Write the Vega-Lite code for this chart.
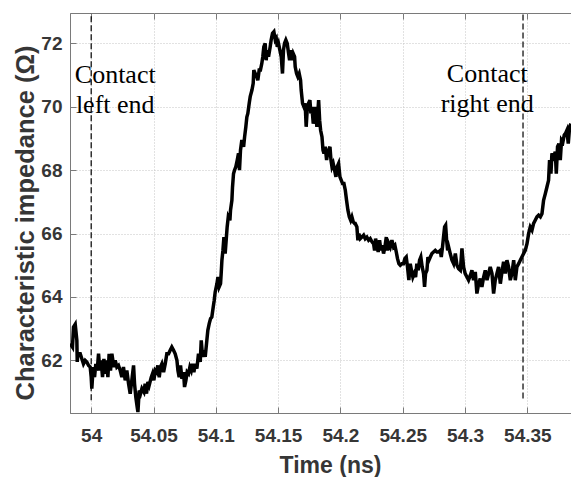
{
  "$schema": "https://vega.github.io/schema/vega-lite/v6.json",
  "width": 501,
  "height": 400,
  "autosize": {"type": "none"},
  "padding": {"left": 70, "top": 13, "right": 0, "bottom": 64},
  "background": "white",
  "config": {
    "view": {"stroke": "#7a7a7a", "strokeWidth": 1},
    "axis": {
      "labelFont": "Liberation Sans",
      "labelFontWeight": "bold",
      "labelFontSize": 19,
      "labelColor": "#363636",
      "titleFont": "Liberation Sans",
      "titleFontWeight": "bold",
      "titleFontSize": 23,
      "titleColor": "#363636",
      "domainColor": "#7a7a7a",
      "tickColor": "#7a7a7a",
      "tickSize": -6,
      "gridColor": "#c4c4c4",
      "gridDash": [1, 2],
      "gridWidth": 1
    }
  },
  "datasets": {
    "trace": [
      {"t": 53.9831, "z": 62.53}, {"t": 53.9850, "z": 62.42}, {"t": 53.9858, "z": 63.05}, {"t": 53.9872, "z": 63.14},
      {"t": 53.9885, "z": 62.63}, {"t": 53.9888, "z": 61.95}, {"t": 53.9893, "z": 62.21}, {"t": 53.9912, "z": 62.21},
      {"t": 53.9925, "z": 62.05}, {"t": 53.9938, "z": 61.89}, {"t": 53.9952, "z": 62.00}, {"t": 53.9965, "z": 61.95},
      {"t": 53.9979, "z": 61.84}, {"t": 53.9992, "z": 61.79}, {"t": 54.0000, "z": 61.47}, {"t": 54.0005, "z": 61.11},
      {"t": 54.0016, "z": 61.79}, {"t": 54.0027, "z": 61.47}, {"t": 54.0037, "z": 61.89}, {"t": 54.0048, "z": 61.68},
      {"t": 54.0059, "z": 62.21}, {"t": 54.0070, "z": 61.68}, {"t": 54.0080, "z": 62.00}, {"t": 54.0091, "z": 61.47},
      {"t": 54.0102, "z": 62.05}, {"t": 54.0112, "z": 61.58}, {"t": 54.0123, "z": 62.00}, {"t": 54.0134, "z": 61.47},
      {"t": 54.0144, "z": 62.21}, {"t": 54.0155, "z": 61.68}, {"t": 54.0166, "z": 62.21}, {"t": 54.0182, "z": 61.79},
      {"t": 54.0193, "z": 62.00}, {"t": 54.0206, "z": 61.79}, {"t": 54.0219, "z": 61.84}, {"t": 54.0233, "z": 61.68},
      {"t": 54.0246, "z": 61.47}, {"t": 54.0259, "z": 61.79}, {"t": 54.0273, "z": 61.37}, {"t": 54.0286, "z": 61.68},
      {"t": 54.0300, "z": 61.26}, {"t": 54.0313, "z": 60.95}, {"t": 54.0326, "z": 61.37}, {"t": 54.0340, "z": 61.84},
      {"t": 54.0348, "z": 61.26}, {"t": 54.0358, "z": 60.84}, {"t": 54.0369, "z": 60.53}, {"t": 54.0375, "z": 60.37},
      {"t": 54.0385, "z": 61.05}, {"t": 54.0396, "z": 60.95}, {"t": 54.0407, "z": 61.11}, {"t": 54.0423, "z": 61.00},
      {"t": 54.0433, "z": 61.26}, {"t": 54.0444, "z": 60.95}, {"t": 54.0455, "z": 61.32}, {"t": 54.0465, "z": 61.21},
      {"t": 54.0482, "z": 61.47}, {"t": 54.0492, "z": 61.58}, {"t": 54.0503, "z": 61.37}, {"t": 54.0514, "z": 61.68},
      {"t": 54.0524, "z": 61.63}, {"t": 54.0535, "z": 61.84}, {"t": 54.0546, "z": 61.47}, {"t": 54.0556, "z": 61.79},
      {"t": 54.0567, "z": 61.89}, {"t": 54.0581, "z": 61.63}, {"t": 54.0594, "z": 61.89}, {"t": 54.0607, "z": 62.21},
      {"t": 54.0621, "z": 62.21}, {"t": 54.0634, "z": 62.32}, {"t": 54.0647, "z": 62.42}, {"t": 54.0661, "z": 62.32},
      {"t": 54.0674, "z": 62.21}, {"t": 54.0688, "z": 62.00}, {"t": 54.0696, "z": 61.68}, {"t": 54.0706, "z": 61.47},
      {"t": 54.0717, "z": 61.84}, {"t": 54.0728, "z": 61.42}, {"t": 54.0741, "z": 61.63}, {"t": 54.0749, "z": 61.16},
      {"t": 54.0760, "z": 61.37}, {"t": 54.0770, "z": 61.63}, {"t": 54.0781, "z": 61.58}, {"t": 54.0792, "z": 61.79},
      {"t": 54.0803, "z": 61.68}, {"t": 54.0813, "z": 61.89}, {"t": 54.0824, "z": 61.63}, {"t": 54.0835, "z": 61.89},
      {"t": 54.0848, "z": 61.74}, {"t": 54.0861, "z": 62.21}, {"t": 54.0875, "z": 61.95}, {"t": 54.0883, "z": 62.63},
      {"t": 54.0894, "z": 62.11}, {"t": 54.0904, "z": 62.32}, {"t": 54.0915, "z": 62.11}, {"t": 54.0928, "z": 62.63},
      {"t": 54.0936, "z": 62.95}, {"t": 54.0947, "z": 63.16}, {"t": 54.0958, "z": 63.32}, {"t": 54.0968, "z": 63.37},
      {"t": 54.0979, "z": 63.68}, {"t": 54.0987, "z": 63.89},
      {"t": 54.0995, "z": 64.16}, {"t": 54.1009, "z": 64.42}, {"t": 54.1017, "z": 64.63}, {"t": 54.1027, "z": 64.32},
      {"t": 54.1038, "z": 64.42}, {"t": 54.1043, "z": 64.74}, {"t": 54.1049, "z": 65.16}, {"t": 54.1057, "z": 65.47},
      {"t": 54.1065, "z": 65.89}, {"t": 54.1075, "z": 65.37}, {"t": 54.1083, "z": 65.79}, {"t": 54.1091, "z": 66.21},
      {"t": 54.1100, "z": 66.53}, {"t": 54.1113, "z": 66.42}, {"t": 54.1118, "z": 66.74}, {"t": 54.1129, "z": 67.05},
      {"t": 54.1134, "z": 67.47}, {"t": 54.1142, "z": 67.89}, {"t": 54.1150, "z": 68.00}, {"t": 54.1161, "z": 68.11},
      {"t": 54.1172, "z": 68.32}, {"t": 54.1182, "z": 68.53}, {"t": 54.1190, "z": 68.00}, {"t": 54.1198, "z": 68.63},
      {"t": 54.1209, "z": 68.95}, {"t": 54.1223, "z": 68.74}, {"t": 54.1231, "z": 69.05}, {"t": 54.1241, "z": 69.37},
      {"t": 54.1249, "z": 69.68}, {"t": 54.1257, "z": 69.79}, {"t": 54.1268, "z": 70.11}, {"t": 54.1276, "z": 70.32},
      {"t": 54.1290, "z": 70.53}, {"t": 54.1300, "z": 70.74}, {"t": 54.1305, "z": 71.16}, {"t": 54.1316, "z": 71.05},
      {"t": 54.1329, "z": 70.95}, {"t": 54.1337, "z": 70.84}, {"t": 54.1348, "z": 71.16}, {"t": 54.1358, "z": 71.16},
      {"t": 54.1369, "z": 71.37}, {"t": 54.1377, "z": 71.58}, {"t": 54.1385, "z": 71.89}, {"t": 54.1396, "z": 72.00},
      {"t": 54.1404, "z": 71.47}, {"t": 54.1412, "z": 71.79}, {"t": 54.1423, "z": 71.58}, {"t": 54.1436, "z": 71.89},
      {"t": 54.1444, "z": 72.11}, {"t": 54.1455, "z": 72.32}, {"t": 54.1466, "z": 72.37}, {"t": 54.1477, "z": 72.11},
      {"t": 54.1485, "z": 72.16}, {"t": 54.1493, "z": 71.89}, {"t": 54.1503, "z": 72.00}, {"t": 54.1514, "z": 71.79},
      {"t": 54.1525, "z": 71.58}, {"t": 54.1535, "z": 71.05}, {"t": 54.1543, "z": 71.79}, {"t": 54.1551, "z": 72.00},
      {"t": 54.1562, "z": 72.11}, {"t": 54.1573, "z": 72.00}, {"t": 54.1584, "z": 71.68}, {"t": 54.1592, "z": 71.47},
      {"t": 54.1600, "z": 71.79}, {"t": 54.1610, "z": 71.47}, {"t": 54.1621, "z": 71.68}, {"t": 54.1632, "z": 71.58},
      {"t": 54.1637, "z": 71.26}, {"t": 54.1648, "z": 71.05}, {"t": 54.1658, "z": 70.95}, {"t": 54.1669, "z": 71.05},
      {"t": 54.1680, "z": 70.84}, {"t": 54.1685, "z": 70.53}, {"t": 54.1696, "z": 70.11}, {"t": 54.1707, "z": 70.00},
      {"t": 54.1717, "z": 70.11}, {"t": 54.1725, "z": 69.37}, {"t": 54.1733, "z": 69.89}, {"t": 54.1744, "z": 70.11},
      {"t": 54.1755, "z": 70.21}, {"t": 54.1763, "z": 69.79}, {"t": 54.1771, "z": 70.00}, {"t": 54.1782, "z": 69.47},
      {"t": 54.1790, "z": 69.68}, {"t": 54.1798, "z": 70.00}, {"t": 54.1811, "z": 69.37}, {"t": 54.1825, "z": 70.21},
      {"t": 54.1833, "z": 69.58}, {"t": 54.1841, "z": 69.26}, {"t": 54.1852, "z": 69.05}, {"t": 54.1860, "z": 68.63},
      {"t": 54.1868, "z": 68.53}, {"t": 54.1878, "z": 68.74}, {"t": 54.1889, "z": 68.32}, {"t": 54.1897, "z": 68.53},
      {"t": 54.1905, "z": 68.63}, {"t": 54.1916, "z": 68.74}, {"t": 54.1924, "z": 68.32}, {"t": 54.1932, "z": 68.11},
      {"t": 54.1942, "z": 68.21}, {"t": 54.1953, "z": 68.00}, {"t": 54.1964, "z": 67.79}, {"t": 54.1974, "z": 68.11},
      {"t": 54.1985, "z": 68.21}, {"t": 54.1996, "z": 67.79}, {"t": 54.2007, "z": 67.68}, {"t": 54.2017, "z": 67.58},
      {"t": 54.2028, "z": 67.58}, {"t": 54.2039, "z": 67.37}, {"t": 54.2049, "z": 67.05}, {"t": 54.2060, "z": 66.74},
      {"t": 54.2071, "z": 66.53}, {"t": 54.2082, "z": 66.42}, {"t": 54.2092, "z": 66.53}, {"t": 54.2103, "z": 66.37},
      {"t": 54.2114, "z": 66.32},
      {"t": 54.2119, "z": 66.32}, {"t": 54.2132, "z": 66.21}, {"t": 54.2140, "z": 65.79}, {"t": 54.2148, "z": 66.00},
      {"t": 54.2159, "z": 65.84}, {"t": 54.2172, "z": 65.89}, {"t": 54.2186, "z": 65.95}, {"t": 54.2199, "z": 65.84},
      {"t": 54.2212, "z": 65.89}, {"t": 54.2226, "z": 65.79}, {"t": 54.2239, "z": 65.84}, {"t": 54.2253, "z": 65.74},
      {"t": 54.2266, "z": 65.68}, {"t": 54.2274, "z": 65.47}, {"t": 54.2282, "z": 65.84}, {"t": 54.2293, "z": 65.63},
      {"t": 54.2303, "z": 65.42}, {"t": 54.2314, "z": 65.79}, {"t": 54.2325, "z": 65.47}, {"t": 54.2335, "z": 65.63},
      {"t": 54.2346, "z": 65.37}, {"t": 54.2357, "z": 65.58}, {"t": 54.2368, "z": 65.89}, {"t": 54.2378, "z": 65.47},
      {"t": 54.2389, "z": 65.68}, {"t": 54.2400, "z": 65.58}, {"t": 54.2413, "z": 65.79}, {"t": 54.2426, "z": 65.58},
      {"t": 54.2437, "z": 65.63}, {"t": 54.2448, "z": 65.42}, {"t": 54.2458, "z": 65.21}, {"t": 54.2469, "z": 65.05},
      {"t": 54.2480, "z": 65.00}, {"t": 54.2493, "z": 65.05}, {"t": 54.2506, "z": 65.05}, {"t": 54.2517, "z": 65.21},
      {"t": 54.2528, "z": 65.26}, {"t": 54.2538, "z": 64.95}, {"t": 54.2549, "z": 64.53}, {"t": 54.2560, "z": 65.05},
      {"t": 54.2570, "z": 64.84}, {"t": 54.2581, "z": 64.63}, {"t": 54.2592, "z": 64.74}, {"t": 54.2603, "z": 64.63},
      {"t": 54.2613, "z": 65.05}, {"t": 54.2624, "z": 64.84}, {"t": 54.2635, "z": 65.16}, {"t": 54.2645, "z": 65.26},
      {"t": 54.2656, "z": 64.95}, {"t": 54.2667, "z": 64.74}, {"t": 54.2675, "z": 64.32}, {"t": 54.2683, "z": 64.74},
      {"t": 54.2694, "z": 64.84}, {"t": 54.2702, "z": 65.26}, {"t": 54.2710, "z": 65.16}, {"t": 54.2721, "z": 65.26},
      {"t": 54.2734, "z": 65.37}, {"t": 54.2747, "z": 65.42}, {"t": 54.2761, "z": 65.47}, {"t": 54.2774, "z": 65.42},
      {"t": 54.2787, "z": 65.42}, {"t": 54.2801, "z": 65.47}, {"t": 54.2809, "z": 65.26}, {"t": 54.2819, "z": 65.58},
      {"t": 54.2827, "z": 65.89}, {"t": 54.2836, "z": 66.21}, {"t": 54.2844, "z": 66.26}, {"t": 54.2852, "z": 65.79},
      {"t": 54.2860, "z": 65.47}, {"t": 54.2868, "z": 65.58}, {"t": 54.2881, "z": 65.37}, {"t": 54.2895, "z": 65.16},
      {"t": 54.2908, "z": 65.05}, {"t": 54.2922, "z": 65.37}, {"t": 54.2935, "z": 65.00}, {"t": 54.2948, "z": 64.89},
      {"t": 54.2962, "z": 64.84},
      {"t": 54.2975, "z": 65.53}, {"t": 54.2988, "z": 64.95}, {"t": 54.3001, "z": 64.74}, {"t": 54.3015, "z": 64.63},
      {"t": 54.3028, "z": 64.53}, {"t": 54.3042, "z": 64.68}, {"t": 54.3055, "z": 64.84}, {"t": 54.3068, "z": 64.53},
      {"t": 54.3082, "z": 64.79}, {"t": 54.3095, "z": 64.11}, {"t": 54.3109, "z": 64.42}, {"t": 54.3122, "z": 64.58},
      {"t": 54.3135, "z": 64.32}, {"t": 54.3149, "z": 64.63}, {"t": 54.3162, "z": 64.84}, {"t": 54.3176, "z": 64.53},
      {"t": 54.3189, "z": 64.74}, {"t": 54.3202, "z": 64.95}, {"t": 54.3216, "z": 64.74}, {"t": 54.3229, "z": 64.11},
      {"t": 54.3242, "z": 64.53}, {"t": 54.3256, "z": 64.74}, {"t": 54.3269, "z": 64.95}, {"t": 54.3283, "z": 64.42},
      {"t": 54.3296, "z": 64.79}, {"t": 54.3309, "z": 65.11}, {"t": 54.3323, "z": 64.74}, {"t": 54.3336, "z": 65.16},
      {"t": 54.3349, "z": 64.95}, {"t": 54.3363, "z": 64.53}, {"t": 54.3376, "z": 64.74}, {"t": 54.3390, "z": 65.16},
      {"t": 54.3403, "z": 64.53}, {"t": 54.3416, "z": 64.95}, {"t": 54.3430, "z": 65.05}, {"t": 54.3443, "z": 65.16},
      {"t": 54.3456, "z": 65.26}, {"t": 54.3470, "z": 65.37}, {"t": 54.3483, "z": 65.47}, {"t": 54.3497, "z": 65.68},
      {"t": 54.3510, "z": 66.00}, {"t": 54.3523, "z": 66.21}, {"t": 54.3537, "z": 66.11}, {"t": 54.3550, "z": 66.32},
      {"t": 54.3563, "z": 66.42}, {"t": 54.3577, "z": 66.53}, {"t": 54.3590, "z": 66.58}, {"t": 54.3604, "z": 66.53},
      {"t": 54.3617, "z": 66.63}, {"t": 54.3630, "z": 67.05}, {"t": 54.3644, "z": 67.26}, {"t": 54.3657, "z": 67.47},
      {"t": 54.3670, "z": 67.68}, {"t": 54.3678, "z": 68.32}, {"t": 54.3689, "z": 67.89}, {"t": 54.3697, "z": 68.53},
      {"t": 54.3710, "z": 68.42}, {"t": 54.3724, "z": 68.58}, {"t": 54.3732, "z": 67.89}, {"t": 54.3742, "z": 68.74},
      {"t": 54.3753, "z": 68.84}, {"t": 54.3764, "z": 68.32}, {"t": 54.3774, "z": 68.95}, {"t": 54.3785, "z": 68.89},
      {"t": 54.3796, "z": 69.11}, {"t": 54.3806, "z": 69.16}, {"t": 54.3817, "z": 69.26}, {"t": 54.3828, "z": 68.84},
      {"t": 54.3839, "z": 69.37}, {"t": 54.3849, "z": 69.47}
    ],
    "ends": [
      {"t": 54.0, "z": 60.74, "z2": 72.96},
      {"t": 54.3465, "z": 60.80, "z2": 72.96}
    ],
    "notes": [
      {"t": 54.0193, "z": 70.76, "label": ["Contact", "left end"]},
      {"t": 54.3178, "z": 70.79, "label": ["Contact", "right end"]}
    ]
  },
  "layer": [
    {
      "data": {"name": "trace"},
      "mark": {"type": "line", "color": "black", "strokeWidth": 3.5, "clip": true, "strokeJoin": "miter"},
      "encoding": {
        "x": {
          "field": "t", "type": "quantitative",
          "scale": {"domain": [53.983, 54.385], "nice": false, "zero": false},
          "axis": {
            "title": "Time (ns)",
            "values": [54, 54.05, 54.1, 54.15, 54.2, 54.25, 54.3, 54.35],
            "format": "~g",
            "labelPadding": 19,
            "titleX": 260,
            "titleY": 59.5,
            "titleBaseline": "alphabetic",
            "grid": true
          }
        },
        "y": {
          "field": "z", "type": "quantitative",
          "scale": {"domain": [60.34, 72.96], "nice": false, "zero": false},
          "axis": {
            "title": "Characteristic impedance (Ω)",
            "titleFontSize": 25.5,
            "values": [62, 64, 66, 68, 70, 72],
            "labelPadding": 14,
            "titleX": -37,
            "titleY": 209.5,
            "titleBaseline": "alphabetic",
            "grid": true
          }
        }
      }
    },
    {
      "data": {"name": "ends"},
      "mark": {"type": "rule", "color": "black", "strokeWidth": 1.2, "strokeDash": [6, 3]},
      "encoding": {
        "x": {"field": "t", "type": "quantitative", "axis": {"orient": "top", "labels": false, "grid": false, "domain": false, "title": null, "values": [54, 54.05, 54.1, 54.15, 54.2, 54.25, 54.3, 54.35]}},
        "y": {"field": "z", "type": "quantitative"},
        "y2": {"field": "z2"}
      }
    },
    {
      "data": {"name": "notes"},
      "mark": {"type": "text", "font": "Liberation Serif", "fontSize": 26, "color": "black", "align": "center", "baseline": "alphabetic", "lineHeight": 30},
      "encoding": {
        "x": {"field": "t", "type": "quantitative", "axis": null},
        "y": {"field": "z", "type": "quantitative"},
        "text": {"field": "label"}
      }
    }
  ],
  "resolve": {"axis": {"x": "independent"}}
}
